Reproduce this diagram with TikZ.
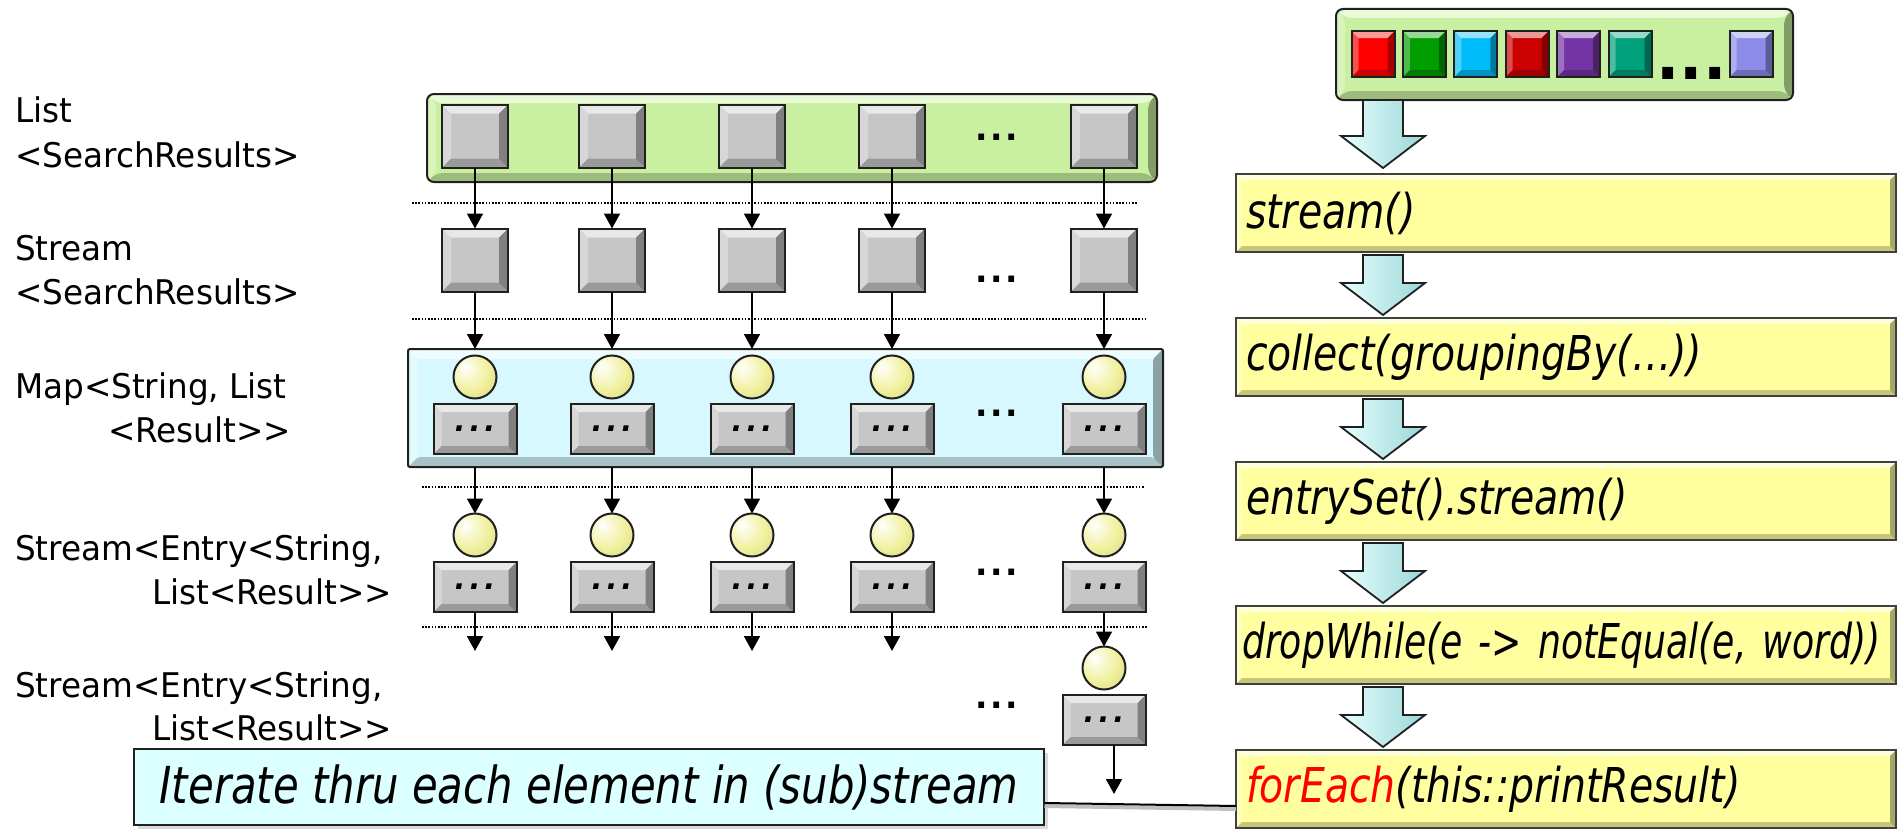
\documentclass[tikz,border=0pt]{standalone}
\usepackage{fontspec}
\setmainfont{DejaVu Sans}[FakeStretch=0.96, Ligatures=TeXOff]
\newfontfamily\opfont{DejaVu Sans}[FakeStretch=0.82]
\newfontfamily\opnarrow{DejaVu Sans}[FakeStretch=0.755]
\usetikzlibrary{arrows.meta,calc,shadows}
\definecolor{listgreen}{HTML}{C8F0A0}
\definecolor{mapblue}{HTML}{D8F8FF}
\definecolor{keygray}{HTML}{C6C6C6}
\definecolor{ballyellow}{HTML}{F0F09C}
\definecolor{opyellow}{HTML}{FFFFA0}
\definecolor{notecyan}{HTML}{DCFFFF}
\definecolor{arrowlight}{HTML}{E6FFFF}
\definecolor{arrowdark}{HTML}{9CD6D6}
\definecolor{edge}{HTML}{202020}
\definecolor{cred}{HTML}{FF0000}
\definecolor{cgreen}{HTML}{009E00}
\definecolor{ccyan}{HTML}{00BCF8}
\definecolor{cdred}{HTML}{CC0000}
\definecolor{cpurple}{HTML}{7434A4}
\definecolor{cteal}{HTML}{00A07C}
\definecolor{clav}{HTML}{8C8CE8}
\pgfdeclareradialshading{pale}{\pgfqpoint{-12bp}{12bp}}{color(0bp)=(white);
  color(7bp)=(white!70!ballyellow); color(24bp)=(ballyellow); color(42bp)=(ballyellow!88!black);
  color(70bp)=(ballyellow!72!black)}
\newcommand\trio{.\hspace{4bp}.\hspace{4bp}.}
\newcommand\gaps{.\hspace{2.5bp}.\hspace{2.5bp}.}
\tikzset{
  bevel/.style={path picture={
    \coordinate (P) at (path picture bounding box.north west);
    \coordinate (Q) at (path picture bounding box.south east);
    \fill[white,opacity=.6] (P) -- (P -| Q) -- ($(P -| Q)+(-#1,-#1)$) -- ($(P)+(#1,-#1)$) -- cycle;
    \fill[white,opacity=.3] (P) -- ($(P)+(#1,-#1)$) -- ($(P |- Q)+(#1,#1)$) -- (P |- Q) -- cycle;
    \fill[black,opacity=.35] (P -| Q) -- (Q) -- ($(Q)+(-#1,#1)$) -- ($(P -| Q)+(-#1,-#1)$) -- cycle;
    \fill[black,opacity=.22] (P |- Q) -- (Q) -- ($(Q)+(-#1,#1)$) -- ($(P |- Q)+(#1,#1)$) -- cycle;}},
  bevel/.default=8bp,
  key/.style={draw=edge, line width=2bp, fill=keygray, bevel=9bp, minimum width=66bp,
    minimum height=63bp, inner sep=0, outer sep=0},
  val/.style={key, bevel=8bp, minimum width=83bp, minimum height=50bp,
    font=\fontsize{30bp}{30bp}\selectfont\bfseries\itshape},
  ball/.style={circle, draw=edge, line width=2bp, shading=pale, minimum size=43bp,
    inner sep=0, outer sep=0},
  chip/.style={draw=edge, line width=2bp, bevel=7bp, minimum width=43bp, minimum height=46bp,
    inner sep=0},
  tick/.style={-{Triangle[width=16bp,length=15bp]}, line width=1.8bp},
  sep/.style={line width=1.4bp, dash pattern=on 1.6bp off 1.6bp},
  lbl/.style={anchor=base west, inner sep=0, font=\fontsize{34bp}{44bp}\selectfont},
  more/.style={anchor=base, inner sep=0, font=\fontsize{34bp}{34bp}\selectfont\bfseries},
  op/.style={draw=black!75, line width=2bp, fill=opyellow, bevel=6bp, minimum width=660bp,
    minimum height=78bp, inner xsep=10bp, text width=640bp, align=left, outer sep=0,
    font=\opfont\itshape\fontsize{48bp}{48bp}\selectfont},
  pipe/.style={draw=edge, line width=1.8bp, left color=arrowlight, right color=arrowdark,
    to path={let \p1=(\tikztostart), \p2=(\tikztotarget) in
      (\x1-20bp,\y1) -- (\x1+20bp,\y1) -- (\x1+20bp,\y2+32bp) -- (\x1+42bp,\y2+32bp)
      -- (\x1,\y2) -- (\x1-42bp,\y2+32bp) -- (\x1-20bp,\y2+32bp) -- cycle}},
  note/.style={draw=edge, line width=2bp, fill=notecyan, minimum width=909bp,
    minimum height=76bp, font=\opfont\itshape\fontsize{51bp}{51bp}\selectfont,
    drop shadow={shadow xshift=4bp, shadow yshift=-4bp, opacity=.3}}
}
\begin{document}
\begin{tikzpicture}[x=1bp,y=-1bp]
	\useasboundingbox (0,0) rectangle (1899,829);
	\node[lbl] (t1a) at (15,122) {List};
	\node[lbl] (t1b) at (15,167) {<SearchResults>};
	\node[lbl] (t2a) at (15,260) {Stream};
	\node[lbl] (t2b) at (15,304) {<SearchResults>};
	\node[lbl] (t3a) at (15,398) {Map<String, List};
	\node[lbl] (t3b) at (108,442) {<Result>>};
	\node[lbl] (t4a) at (15,560) {Stream<Entry<String,};
	\node[lbl] (t4b) at (152,604) {List<Result>>};
	\node[lbl] (t5a) at (15,697) {Stream<Entry<String,};
	\node[lbl] (t5b) at (152,740) {List<Result>>};
	\node[draw=edge, line width=2bp, fill=listgreen, rounded corners=7bp, bevel=9bp,
		minimum width=730bp, minimum height=88bp, outer sep=0] (list) at (792,138) {};
	\node[draw=edge, line width=2bp, fill=mapblue, rounded corners=2bp, bevel=10bp,
		minimum width=755bp, minimum height=118bp, outer sep=0] (map) at (785.5,408) {};
	\draw[sep] (412,203) -- (1138,203);
	\draw[sep] (412,319) -- (1147,319);
	\draw[sep] (422,487) -- (1145,487);
	\draw[sep] (422,627) -- (1147,627);
	\foreach \i/\x in {1/475,2/612,3/752,4/892,5/1104} {
		\node[key] (l\i) at (\x,136) {};
		\node[key] (s\i) at (\x,260) {};
		\node[ball] (m\i) at (\x,377) {};
		\node[val] (k\i) at (\x,429) {\trio};
		\node[ball] (e\i) at (\x,535) {};
		\node[val] (v\i) at (\x,587) {\trio};
		\draw[tick] (l\i) -- (s\i);
		\draw[tick] (s\i) -- (s\i |- map.north);
		\draw[tick] (k\i |- map.south) -- (e\i);
	}
	\foreach \i in {1,...,4} {
		\path (v\i.south) ++(0,39) coordinate (o\i);
		\draw[tick] (v\i) -- (o\i);
	}
	\node[ball] (f) at (1104,668) {};
	\node[val] (g) at (1104,720) {\trio};
	\draw[tick] (v5) -- (f);
	\path ([xshift=10bp]g.south) ++(0,49) coordinate (o5);
	\draw[tick] ([xshift=10bp]g.south) -- (o5);
	\foreach \y in {140,282,416,575,708}
		\node[more] (d\y) at (997,\y) {\gaps};
	% source collection and pipeline
	\node[draw=edge, line width=2bp, fill=listgreen, rounded corners=7bp, bevel=9bp,
		minimum width=457bp, minimum height=91bp, outer sep=0] (src) at (1564.5,54.5) {};
	\foreach \i/\c in {1/cred,2/cgreen,3/ccyan,4/cdred,5/cpurple,6/cteal}
		\node[chip, fill=\c] (q\i) at ({1373+51.4*(\i-1)},54) {};
	\node[chip, fill=clav] (q7) at (1751,54) {};
	\node[more, font=\fontsize{64bp}{64bp}\selectfont\bfseries] (qd) at (1691.5,79) {...};
	\node[op] (b1) at (1566,213) {stream()};
	\node[op] (b2) at (1566,357) {collect(groupingBy(…))};
	\node[op] (b3) at (1566,501) {entrySet().stream()};
	\node[op, inner xsep=6bp, text width=648bp] (b4) at (1566,645)
		{\opnarrow dropWhile(e -> notEqual(e, word))};
	\node[op] (b5) at (1566,789) {\textcolor{red}{forEach}(this::printResult)};
	\coordinate (A) at (1383,0);
	\path[pipe] (src.south -| A) to ([yshift=6bp]b1.north -| A);
	\foreach \i/\j in {1/2,2/3,3/4,4/5}
		\path[pipe] ([yshift=-3bp]b\i.south -| A) to ([yshift=3bp]b\j.north -| A);
	\node[note] (tip) at (589,787) {Iterate thru each element in (sub)stream};
	\draw[black!25, line width=4bp] ([yshift=-19bp]tip.east) -- ([yshift=-20bp]b5.west);
	\draw[line width=2bp] ([yshift=-16bp]tip.east) -- ([yshift=-17bp]b5.west);
\end{tikzpicture}
\end{document}
